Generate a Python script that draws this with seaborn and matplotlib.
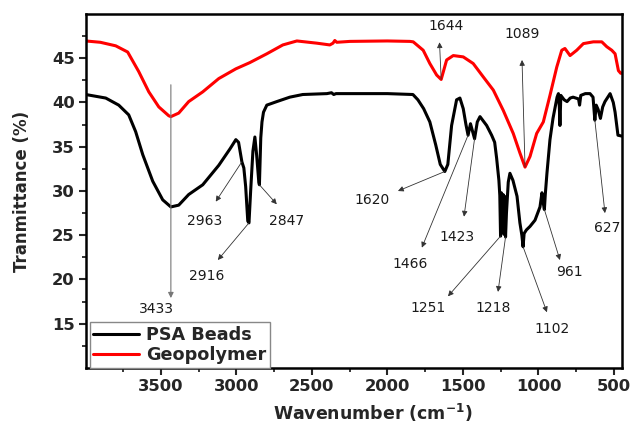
import numpy as np
import pandas as pd
import matplotlib
matplotlib.use("Agg")
import matplotlib.pyplot as plt
from matplotlib.ticker import FixedLocator
import seaborn as sns

# FTIR spectra (wavenumber in cm-1, transmittance in %)
psa_wavenumber = [3997, 3864, 3778, 3712, 3666, 3619, 3553, 3487, 3433, 3381, 3315, 3222,
                  3116, 3040, 3003, 2985, 2963, 2950, 2938, 2924, 2916, 2905, 2890, 2877,
                  2865, 2851, 2847, 2838, 2830, 2820, 2798, 2732, 2646, 2560, 2400, 2370,
                  2355, 2340, 2000, 1831, 1798, 1760, 1719, 1680, 1650, 1620, 1600, 1575,
                  1542, 1520, 1498, 1480, 1466, 1450, 1423, 1405, 1387, 1343, 1310, 1290,
                  1277, 1262, 1256, 1251, 1246, 1240, 1234, 1228, 1224, 1218, 1212, 1200,
                  1189, 1169, 1142, 1123, 1110, 1102, 1095, 1080, 1056, 1023, 990, 977,
                  970, 961, 955, 944, 924, 904, 877, 868, 862, 858, 852, 830, 811, 790,
                  771, 735, 728, 720, 690, 659, 639, 627, 618, 605, 590, 575, 560, 526,
                  505, 493, 474, 448]
psa_transmittance = [40.9, 40.5, 39.7, 38.6, 36.7, 34.1, 31.1, 29.0, 28.2, 28.4, 29.6, 30.7,
                     32.9, 34.8, 35.8, 35.5, 33.3, 32.6, 30.5, 26.6, 26.4, 30.0, 34.5, 36.1,
                     34.0, 31.0, 30.7, 36.0, 37.8, 38.9, 39.7, 40.1, 40.6, 40.9, 41.0, 41.1,
                     40.9, 41.0, 41.0, 40.9, 40.3, 39.3, 37.8, 35.2, 33.0, 32.2, 33.0, 37.4,
                     40.3, 40.5, 39.3, 37.5, 36.3, 37.6, 35.9, 37.8, 38.4, 37.4, 36.3, 35.5,
                     33.7, 31.2, 29.5, 24.9, 29.8, 25.3, 29.6, 25.1, 29.4, 24.8, 27.5, 31.0,
                     32.0, 31.2, 29.4, 26.4, 25.0, 23.7, 25.2, 25.6, 26.0, 26.7, 28.2, 29.8,
                     28.8, 27.9, 29.6, 32.0, 35.8, 38.2, 40.6, 41.0, 39.5, 37.4, 40.8, 40.3,
                     40.1, 40.5, 40.6, 40.4, 39.7, 40.8, 41.0, 41.0, 40.6, 38.0, 39.7, 39.2,
                     38.2, 39.5, 40.1, 41.0, 40.0, 38.9, 36.3, 36.2]

geo_wavenumber = [3997, 3900, 3798, 3719, 3646, 3579, 3513, 3447, 3433, 3381, 3315, 3222,
                  3116, 3003, 2911, 2798, 2692, 2599, 2467, 2381, 2360, 2348, 2335, 2248,
                  2000, 1851, 1829, 1763, 1719, 1674, 1644, 1608, 1564, 1498, 1432, 1366,
                  1299, 1233, 1167, 1123, 1089, 1056, 1012, 968, 924, 879, 846, 825, 791,
                  747, 703, 637, 581, 548, 515, 493, 471, 456, 448]
geo_transmittance = [46.95, 46.8, 46.4, 45.7, 43.5, 41.2, 39.5, 38.5, 38.4, 38.8, 40.1, 41.2,
                     42.7, 43.8, 44.5, 45.5, 46.5, 46.95, 46.7, 46.5, 46.7, 47.0, 46.8, 46.9,
                     46.95, 46.9, 46.85, 45.9, 44.4, 43.1, 42.6, 44.8, 45.3, 45.15, 44.4, 42.9,
                     41.4, 39.1, 36.5, 34.3, 32.7, 33.9, 36.5, 37.8, 40.8, 44.0, 45.9, 46.1,
                     45.3, 45.9, 46.65, 46.85, 46.85, 46.3, 45.9, 45.5, 43.6, 43.3, 43.3]

series_names = ["PSA Beads", "Geopolymer"]
series_colors = ["black", "red"]

# Band labels for each spectrum
psa_bands = ["2963", "2916", "2847", "1620", "1466", "1423", "1251", "1218", "1102", "961", "627"]
geo_bands = ["1644", "1089"]

df = pd.concat([
    pd.DataFrame({"Wavenumber": psa_wavenumber, "Transmittance": psa_transmittance,
                  "Sample": series_names[0]}),
    pd.DataFrame({"Wavenumber": geo_wavenumber, "Transmittance": geo_transmittance,
                  "Sample": series_names[1]}),
])

sns.set_style("ticks")
plt.rcParams["font.family"] = ["DejaVu Sans"]

fig = plt.figure(figsize=(6.32, 4.23), dpi=100)
ax = fig.add_axes([0.136, 0.130, 0.848, 0.837])

sns.lineplot(data=df, x="Wavenumber", y="Transmittance", hue="Sample",
             palette=dict(zip(series_names, series_colors)), estimator=None,
             sort=False, linewidth=2.2, ax=ax)

ax.set_xlim(3995, 448)
ax.set_ylim(10, 50)
ax.xaxis.set_major_locator(FixedLocator([3500, 3000, 2500, 2000, 1500, 1000, 500]))
ax.xaxis.set_minor_locator(FixedLocator([3750, 3250, 2750, 2250, 1750, 1250, 750]))
ax.yaxis.set_major_locator(FixedLocator([15, 20, 25, 30, 35, 40, 45]))
ax.yaxis.set_minor_locator(FixedLocator([12.5, 17.5, 22.5, 27.5, 32.5, 37.5, 42.5, 47.5]))

for s in ax.spines.values():
    s.set_linewidth(1.8)
    s.set_color("black")
    s.set_visible(True)
ax.tick_params(which="major", direction="out", length=5, width=1.5, labelsize=11.8,
               pad=3, top=False, right=False)
ax.tick_params(which="minor", direction="out", length=3, width=1.3, top=False, right=False)
for lab in ax.get_xticklabels() + ax.get_yticklabels():
    lab.set_fontweight("bold")

ax.set_xlabel("Wavenumber (cm$^{\\mathbf{-1}}$)", fontsize=12.5, fontweight="bold",
              va="center")
ax.set_ylabel("Tranmittance (%)", fontsize=12, fontweight="bold", va="center")
ax.xaxis.set_label_coords(0.535, -0.127)
ax.yaxis.set_label_coords(-0.119, 0.5)

psa_interp = lambda w: np.interp(w, psa_wavenumber[::-1], psa_transmittance[::-1])
geo_interp = lambda w: np.interp(w, geo_wavenumber[::-1], geo_transmittance[::-1])

arrow_style = dict(arrowstyle="-|>", color="#333333", lw=0.6, mutation_scale=8,
                   shrinkA=0, shrinkB=0)
label_style = dict(fontsize=10, color="#1a1a1a", ha="center", va="center", zorder=1)

# O-H stretch marker runs through both spectra
ax.annotate("", xy=(3433, 17.9), xytext=(3433, 42.0),
            arrowprops=dict(arrowstyle="-|>", color="#777777", lw=0.8, mutation_scale=8,
                            shrinkA=0, shrinkB=0))
ax.text(3526, 16.7, "3433", **label_style)

psa_layout = {
    "2963": ((3136, 28.8), (3209, 26.6)),
    "2916": ((3122, 22.2), (3195, 20.4)),
    "2847": ((2732, 28.5), (2666, 26.6)),
    "1620": ((1930, 30.0), (2103, 29.0)),
    "1466": ((1772, 23.6), (1851, 21.8)),
    "1423": ((1493, 27.1), (1540, 24.8)),
    "1251": ((1599, 18.1), (1732, 16.8)),
    "1218": ((1268, 18.6), (1301, 16.8)),
    "1102": ((944, 16.3), (911, 14.4)),
    "961": ((858, 22.2), (798, 20.8)),
    "627": ((560, 27.5), (546, 25.8)),
}
geo_layout = {
    "1644": ((1655, 46.8), (1613, 48.6)),
    "1089": ((1109, 44.8), (1109, 47.7)),
}

for band in psa_bands:
    w = float(band)
    head, pos = psa_layout[band]
    ax.annotate("", xy=head, xytext=(w, psa_interp(w)), arrowprops=arrow_style)
    ax.text(pos[0], pos[1], band, **label_style)

for band in geo_bands:
    w = float(band)
    head, pos = geo_layout[band]
    ax.annotate("", xy=head, xytext=(w, geo_interp(w)), arrowprops=arrow_style)
    ax.text(pos[0], pos[1], band, **label_style)

old = ax.get_legend()
handles = old.legend_handles
labels = [t.get_text() for t in old.get_texts()]
old.remove()
for h in handles:
    h.set_linewidth(2.2)
leg = ax.legend(handles, labels, loc="lower left", bbox_to_anchor=(0.0075, 0.0),
                borderaxespad=0, frameon=True, fancybox=False, handlelength=2.6,
                handletextpad=0.4, labelspacing=0.15, borderpad=0.2,
                prop={"weight": "bold", "size": 12.7})
leg.get_frame().set_edgecolor("#888888")
leg.get_frame().set_linewidth(1.0)
leg.get_frame().set_alpha(1)

fig.savefig("out.png", dpi=100)
